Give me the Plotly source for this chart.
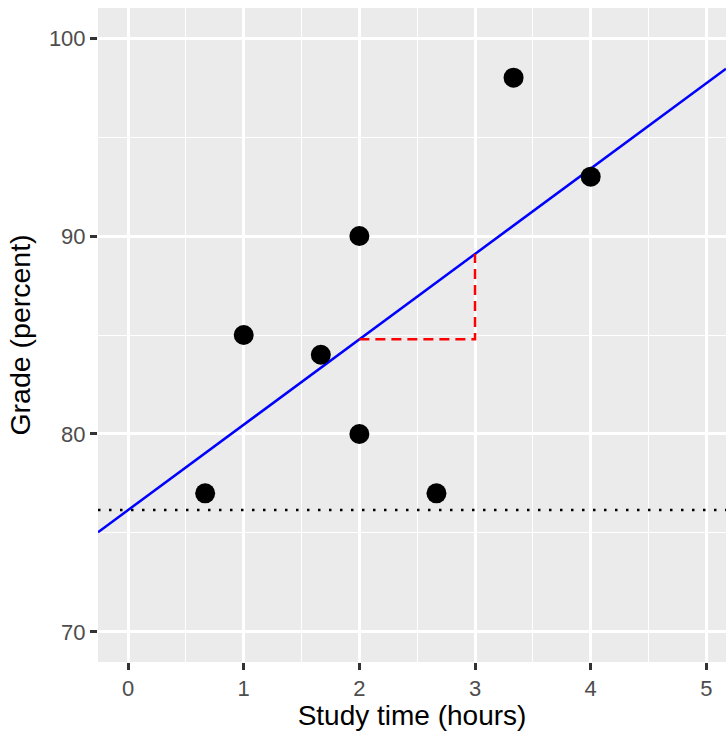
import numpy as np
import plotly.graph_objects as go

study_hours = [2/3, 1, 5/3, 2, 2, 8/3, 10/3, 4]
grades = [77, 85, 84, 90, 80, 77, 98, 93]
x_ticks = [0, 1, 2, 3, 4, 5]
y_ticks = [70, 80, 90, 100]

slope, intercept = np.polyfit(study_hours, grades, 1)

x_range = [-0.26, 5.17]
y_range = [68.48, 101.52]

FONT = "Liberation Sans, Arial, sans-serif"

fig = go.Figure()

# dotted intercept line
fig.add_trace(go.Scatter(x=x_range, y=[intercept, intercept], mode="lines",
                         line=dict(color="black", width=2.5, dash="2.5px,8.5px"), hoverinfo="skip"))
# regression line
fig.add_trace(go.Scatter(x=x_range, y=[intercept + slope * x_range[0], intercept + slope * x_range[1]],
                         mode="lines", line=dict(color="blue", width=2.5), hoverinfo="skip"))
# slope triangle
fig.add_trace(go.Scatter(x=[2, 3, 3], y=[intercept + slope * 2, intercept + slope * 2, intercept + slope * 3],
                         mode="lines", line=dict(color="red", width=2.5, dash="10px,6px"), hoverinfo="skip"))
# points
fig.add_trace(go.Scatter(x=study_hours, y=grades, mode="markers",
                         marker=dict(color="black", size=20)))

axis_common = dict(
    showgrid=True, gridcolor="white", gridwidth=2.7, zeroline=False,
    ticks="outside", ticklen=7, tickwidth=2.5, tickcolor="#333333",
    tickfont=dict(family=FONT, size=22, color="#4D4D4D"),
    showline=False,
)

fig.update_xaxes(range=x_range, tickvals=x_ticks, ticktext=[str(v) for v in x_ticks],
                 minor=dict(tickvals=[0.5, 1.5, 2.5, 3.5, 4.5], showgrid=True, gridcolor="white", gridwidth=1.3),
                 title=dict(text="Study time (hours)", font=dict(family=FONT, size=28, color="black"), standoff=6),
                 **axis_common)
fig.update_yaxes(range=y_range, tickvals=y_ticks, ticktext=[str(v) for v in y_ticks],
                 minor=dict(tickvals=[75, 85, 95], showgrid=True, gridcolor="white", gridwidth=1.3),
                 title=dict(text="Grade (percent)", font=dict(family=FONT, size=28.5, color="black"), standoff=9),
                 **axis_common)

fig.update_layout(
    width=726, height=731,
    margin=dict(l=98, r=0, t=8, b=69),
    plot_bgcolor="#EBEBEB", paper_bgcolor="white",
    showlegend=False,
)

fig.write_html("out.html", config={"displayModeBar": False},
               post_script="document.body.style.margin='0';document.body.style.overflow='hidden';")
